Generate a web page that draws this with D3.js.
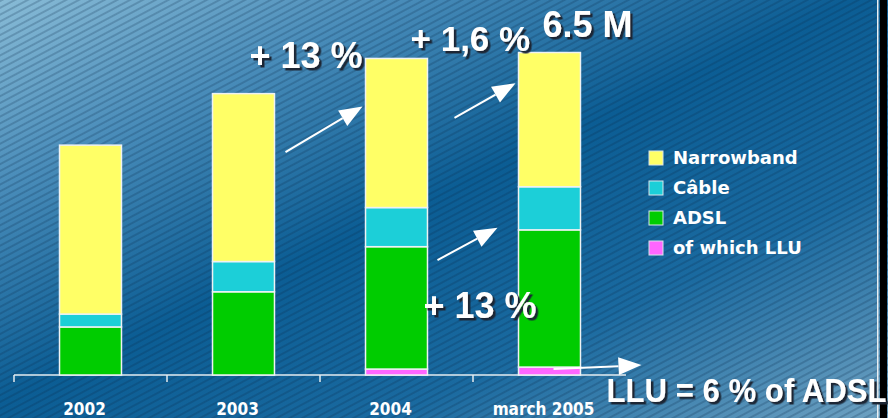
<!DOCTYPE html>
<html>
<head>
<meta charset="utf-8">
<script src="https://cdn.jsdelivr.net/npm/d3@7"></script>
<style>
  html, body { margin: 0; padding: 0; background: #0c5d94; }
  svg { display: block; }
</style>
</head>
<body>
<div id="chart"></div>
<script>
const categories = ['2002', '2003', '2004', 'march 2005']
// millions of subscribers
const narrowband = [3.41, 3.39, 3.01, 2.71]
const cable = [0.26, 0.61, 0.79, 0.87]
const adsl = [0.97, 1.68, 2.59, 2.93]
const llu = [0, 0, 0.12, 0.16]
const legendLabels = ['Narrowband', 'Câble', 'ADSL', 'of which LLU']
const colors = ['#ffff66', '#1ccfd8', '#00cc00', '#ff66ff']

const width = 888
const height = 418
const FONT = '"Liberation Sans", Arial, sans-serif'
const LFONT = '"DejaVu Sans", sans-serif'

const data = categories.map((c, i) => ({
  name: c,
  llu: llu[i],
  adslRest: adsl[i] - llu[i],
  cable: cable[i],
  narrowband: narrowband[i]
}))
const keys = ['llu', 'adslRest', 'cable', 'narrowband']
const keyColor = { llu: colors[3], adslRest: colors[2], cable: colors[1], narrowband: colors[0] }

const series = d3.stack().keys(keys)(data)

const x = d3.scaleBand()
  .domain(categories)
  .range([14, 626])
  .paddingInner(0.595)
  .paddingOuter(0.2975)

const y = d3.scaleLinear().domain([0, 6.5]).range([375, 53])
const bw = x.bandwidth()
const halfGap = x.step() * x.paddingInner() / 2

const svg = d3.select('#chart').append('svg')
  .attr('width', width)
  .attr('height', height)

const defs = svg.append('defs')
const grad = defs.append('linearGradient')
  .attr('id', 'bg')
  .attr('x1', '0').attr('y1', '0').attr('x2', '1').attr('y2', '1')
grad.selectAll('stop')
  .data([[0, '#88bbd6'], [0.22, '#4a8dba'], [0.48, '#0b5d94'], [0.72, '#1a6aa0'], [1, '#6fa2c2']])
  .join('stop')
  .attr('offset', d => d[0])
  .attr('stop-color', d => d[1])

const stripes = defs.append('pattern')
  .attr('id', 'stripes')
  .attr('width', 6)
  .attr('height', 6)
  .attr('patternUnits', 'userSpaceOnUse')
  .attr('patternTransform', 'rotate(-28)')
stripes.append('rect')
  .attr('width', 6).attr('height', 2)
  .attr('fill', '#0a2a48').attr('opacity', 0.22)

const shadow = defs.append('filter')
  .attr('id', 'shadow')
  .attr('x', '-10%').attr('y', '-20%').attr('width', '130%').attr('height', '150%')
shadow.append('feDropShadow')
  .attr('dx', 2.5).attr('dy', 2.5).attr('stdDeviation', 0.4)
  .attr('flood-color', '#1a2635').attr('flood-opacity', 1)

svg.append('rect').attr('width', width).attr('height', height).attr('fill', 'url(#bg)')
svg.append('rect').attr('width', width).attr('height', height).attr('fill', 'url(#stripes)')

// right edge frame
svg.append('rect').attr('x', 877).attr('y', 0).attr('width', 1.5).attr('height', height).attr('fill', '#e8eef2')
svg.append('rect').attr('x', 880).attr('y', 0).attr('width', 7).attr('height', height).attr('fill', '#000')

// axis
const axisG = svg.append('g').attr('stroke', '#e4ecf0').attr('stroke-width', 1.5)
axisG.append('line')
  .attr('x1', x(categories[0]) - halfGap)
  .attr('x2', x(categories[categories.length - 1]) + bw + halfGap)
  .attr('y1', y(0)).attr('y2', y(0))
axisG.selectAll('.tick')
  .data(categories)
  .join('line')
  .attr('x1', d => x(d) - halfGap)
  .attr('x2', d => x(d) - halfGap)
  .attr('y1', y(0))
  .attr('y2', y(0) + 7)

svg.append('g')
  .selectAll('text')
  .data(categories)
  .join('text')
  .attr('x', d => x(d) + bw / 2 - 6)
  .attr('y', 415)
  .attr('text-anchor', 'middle')
  .attr('fill', '#fff')
  .style('font', `bold 17px "DejaVu Sans Condensed", ${LFONT}`)
  .text(d => d)

// bars
svg.append('g')
  .selectAll('g')
  .data(series)
  .join('g')
  .attr('fill', d => keyColor[d.key])
  .selectAll('rect')
  .data(d => d.filter(s => s[1] - s[0] > 0))
  .join('rect')
  .attr('x', d => x(d.data.name))
  .attr('y', d => y(d[1]))
  .attr('width', bw)
  .attr('height', d => y(d[0]) - y(d[1]))
  .attr('stroke', '#eef2f4')
  .attr('stroke-width', 1.5)

// legend
const legend = svg.append('g')
  .selectAll('g')
  .data(legendLabels)
  .join('g')
  .attr('transform', (d, i) => `translate(649, ${151 + i * 30})`)
legend.append('rect')
  .attr('width', 14).attr('height', 14)
  .attr('fill', (d, i) => colors[i])
  .attr('stroke', '#d8e4ea')
  .attr('stroke-width', 1)
legend.append('text')
  .attr('x', 24)
  .attr('y', 13)
  .attr('fill', '#fff')
  .style('font', `bold 18px ${LFONT}`)
  .text(d => d)

// arrows
const arrows = [
  [x('2003') + bw + 11, y(4.5), x('2004') - 3, y(5.42)],
  [x('2004') + bw + 27, y(5.19), x('march 2005') - 3, y(5.89)],
  [x('2004') + bw + 10, y(2.32), x('march 2005') - 21, y(2.97)],
  [x('march 2005') + 35, y(0.12), x('march 2005') + bw + 61, y(0.2)]
]
const arrowG = svg.append('g')
arrows.forEach(([x1, y1, x2, y2]) => {
  const ang = Math.atan2(y2 - y1, x2 - x1)
  const len = 23
  const hw = 9
  const bx = x2 - len * Math.cos(ang)
  const by = y2 - len * Math.sin(ang)
  arrowG.append('line')
    .attr('x1', x1).attr('y1', y1).attr('x2', bx).attr('y2', by)
    .attr('stroke', '#fff').attr('stroke-width', 2)
  arrowG.append('path')
    .attr('d', `M${x2},${y2}L${bx + hw * Math.sin(ang)},${by - hw * Math.cos(ang)}L${bx - hw * Math.sin(ang)},${by + hw * Math.cos(ang)}Z`)
    .attr('fill', '#fff')
})

// annotation texts
const notes = [
  { t: '+ 13 %', x: x('2003') + 37, y: 68, size: 36 },
  { t: '+ 1,6 %', x: x('2004') + 45, y: 51, size: 35 },
  { t: '6.5 M', x: x('march 2005') + 24, y: 37, size: 36 },
  { t: '+ 13 %', x: x('2004') + 58, y: 318, size: 36 },
  { t: 'LLU = 6 % of ADSL', x: x('march 2005') + 88, y: 402, size: 34, len: 280 }
]
svg.append('g')
  .selectAll('text')
  .data(notes)
  .join('text')
  .attr('x', d => d.x)
  .attr('y', d => d.y)
  .attr('fill', '#fff')
  .attr('filter', 'url(#shadow)')
  .style('font', d => `bold ${d.size}px ${FONT}`)
  .each(function(d) {
    if (d.len) d3.select(this).attr('textLength', d.len).attr('lengthAdjust', 'spacingAndGlyphs')
  })
  .text(d => d.t)
</script>
</body>
</html>
